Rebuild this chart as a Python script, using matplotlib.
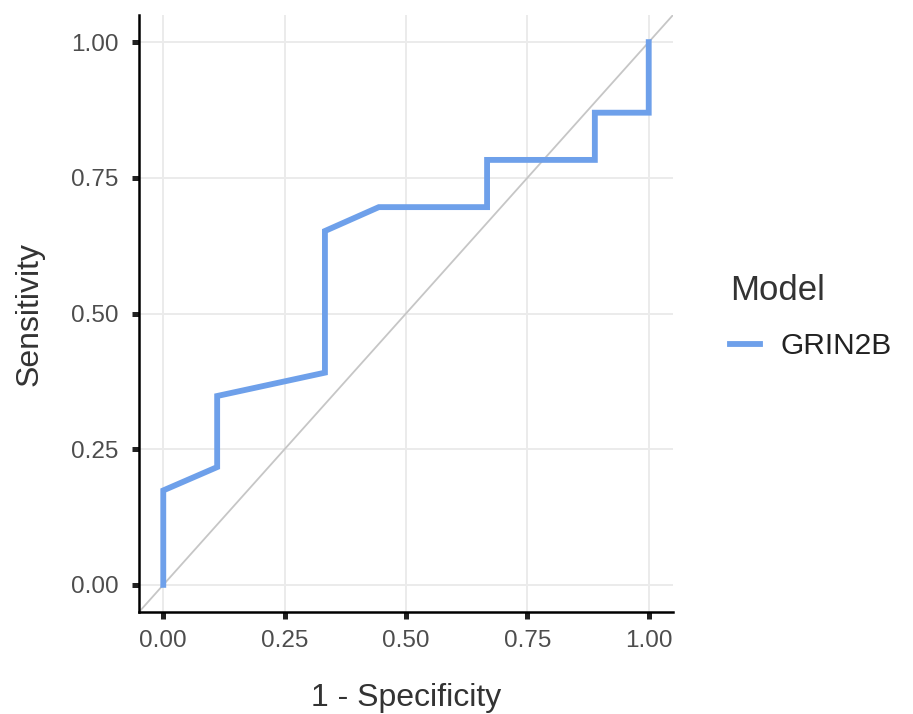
import matplotlib
matplotlib.use("Agg")
import matplotlib.pyplot as plt
from matplotlib.lines import Line2D

plt.rcParams['font.family'] = ['Liberation Sans', 'DejaVu Sans']

# ROC curve data (1 - specificity, sensitivity)
fpr = [0.0, 0.0, 0.111, 0.111, 0.333, 0.333, 0.444, 0.667, 0.667, 0.889, 0.889, 1.0, 1.0]
tpr = [0.0, 0.174, 0.217, 0.348, 0.391, 0.652, 0.696, 0.696, 0.783, 0.783, 0.870, 0.870, 1.0]
model_name = "GRIN2B"
ticks = [0.0, 0.25, 0.5, 0.75, 1.0]
tick_labels = ["0.00", "0.25", "0.50", "0.75", "1.00"]

fig = plt.figure(figsize=(9.13, 7.14), dpi=100)
ax = fig.add_axes([139/913, 1-612/714, (673-139)/913, (612-15)/714])

ax.set_xlim(-0.05, 1.05)
ax.set_ylim(-0.05, 1.05)

# diagonal reference
ax.axline((0, 0), slope=1, color="#c6c6c6", lw=1.3, zorder=2)
ax.plot(fpr, tpr, color="#6EA0EA", lw=4.2, solid_joinstyle="miter", zorder=3)

ax.set_xticks(ticks)
ax.set_xticklabels(tick_labels)
ax.set_yticks(ticks)
ax.set_yticklabels(tick_labels)
ax.grid(True, color="#ebebeb", lw=1.4, zorder=0)
ax.set_axisbelow(True)

for s in ["top", "right"]:
    ax.spines[s].set_visible(False)
for s in ["left", "bottom"]:
    ax.spines[s].set_color("black")
    ax.spines[s].set_linewidth(1.8)

ax.tick_params(axis="x", length=5, width=3.6, color="#222222",
               labelsize=17.5, labelcolor="#4d4d4d", pad=8)
ax.tick_params(axis="y", length=5, width=3.6, color="#222222",
               labelsize=17.5, labelcolor="#4d4d4d", pad=10)

ax.set_xlabel("1 - Specificity", fontsize=23, color="#333333", labelpad=22)
ax.set_ylabel("Sensitivity", fontsize=23, color="#333333", labelpad=19)

handle = Line2D([], [], color="#6EA0EA", lw=4.2)
leg = fig.legend([handle], [model_name], title="Model",
                 loc="upper left", bbox_to_anchor=(703/913, 1-247/714),
                 frameon=False, fontsize=21.5, title_fontsize=25,
                 handlelength=1.0, handletextpad=0.7, labelspacing=0.85,
                 alignment="left")
leg.get_title().set_color("#333333")
for t in leg.get_texts():
    t.set_color("#222222")

fig.savefig("out.png", dpi=100)
